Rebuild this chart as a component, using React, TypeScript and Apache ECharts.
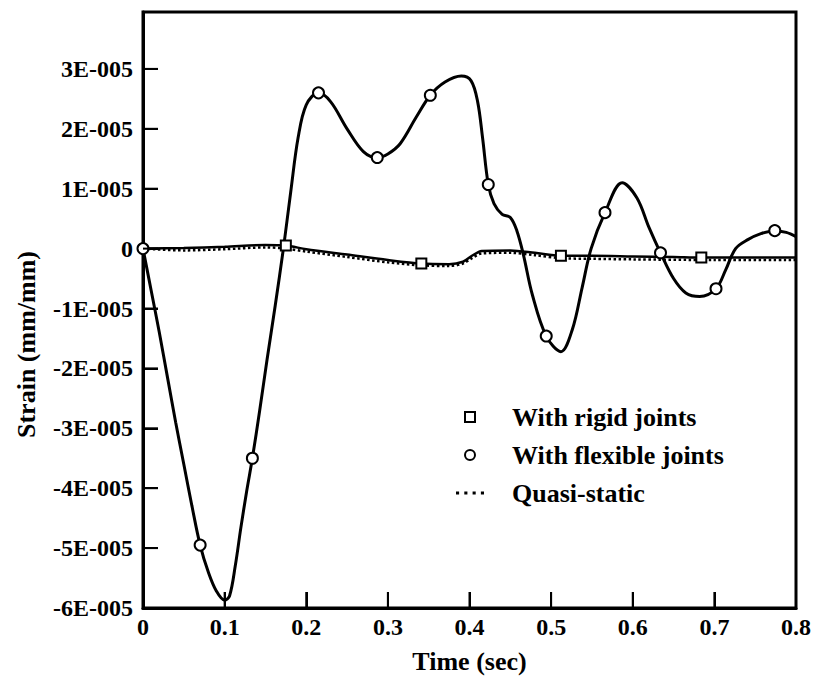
import React, { useEffect, useRef } from "react";
import * as echarts from "echarts";

// ---- Data (strain in mm/mm, time in sec) ----
const flexTime = [
  0.0, 0.01, 0.02, 0.03, 0.04, 0.05, 0.06, 0.07, 0.08, 0.09, 0.1, 0.106, 0.113, 0.12, 0.127,
  0.134, 0.143, 0.152, 0.162, 0.172, 0.181, 0.19, 0.2, 0.215, 0.23, 0.25, 0.27, 0.287, 0.3,
  0.315, 0.335, 0.352, 0.37, 0.39, 0.402, 0.41, 0.416, 0.423, 0.43, 0.44, 0.45, 0.458, 0.466,
  0.477, 0.494, 0.512, 0.526, 0.538, 0.549, 0.566, 0.587, 0.605, 0.62, 0.634, 0.65, 0.665,
  0.682, 0.702, 0.714, 0.726, 0.741, 0.757, 0.774, 0.788, 0.8,
];
const flexStrain = [
  0, -0.7e-5, -1.4e-5, -2.15e-5, -2.9e-5, -3.6e-5, -4.3e-5, -4.95e-5, -5.4e-5, -5.72e-5,
  -5.87e-5, -5.8e-5, -5.3e-5, -4.65e-5, -4.05e-5, -3.5e-5, -2.7e-5, -1.85e-5, -0.95e-5, 0.0,
  0.95e-5, 1.85e-5, 2.4e-5, 2.6e-5, 2.45e-5, 2.0e-5, 1.62e-5, 1.52e-5, 1.58e-5, 1.75e-5,
  2.2e-5, 2.56e-5, 2.78e-5, 2.88e-5, 2.8e-5, 2.45e-5, 1.85e-5, 1.07e-5, 0.75e-5, 0.57e-5,
  0.52e-5, 0.3e-5, -0.1e-5, -0.77e-5, -1.46e-5, -1.72e-5, -1.35e-5, -0.65e-5, 0.0, 0.6e-5,
  1.1e-5, 0.85e-5, 0.35e-5, -0.07e-5, -0.5e-5, -0.74e-5, -0.8e-5, -0.67e-5, -0.35e-5, 0.0,
  0.15e-5, 0.25e-5, 0.3e-5, 0.27e-5, 0.2e-5,
];
const flexMarkerTimes = [0.0, 0.07, 0.134, 0.215, 0.287, 0.352, 0.423, 0.494, 0.566, 0.634, 0.702, 0.774];

const rigidTime = [
  0.0, 0.05, 0.1, 0.15, 0.175, 0.2, 0.25, 0.3, 0.341, 0.375, 0.392, 0.403, 0.415, 0.45, 0.48,
  0.512, 0.55, 0.6, 0.65, 0.684, 0.74, 0.8,
];
const rigidStrain = [
  0, 0.01e-5, 0.03e-5, 0.06e-5, 0.05e-5, -0.01e-5, -0.1e-5, -0.19e-5, -0.25e-5, -0.26e-5,
  -0.22e-5, -0.12e-5, -0.04e-5, -0.03e-5, -0.07e-5, -0.12e-5, -0.12e-5, -0.13e-5, -0.14e-5,
  -0.15e-5, -0.15e-5, -0.15e-5,
];
const rigidMarkerTimes = [0.175, 0.341, 0.512, 0.684];

const quasiTime = [
  0.0, 0.05, 0.1, 0.15, 0.175, 0.2, 0.25, 0.3, 0.341, 0.375, 0.392, 0.403, 0.415, 0.45, 0.48,
  0.512, 0.55, 0.6, 0.7, 0.8,
];
const quasiStrain = [
  0, -0.03e-5, -0.01e-5, 0.02e-5, 0.0, -0.05e-5, -0.14e-5, -0.23e-5, -0.28e-5, -0.29e-5,
  -0.25e-5, -0.16e-5, -0.08e-5, -0.07e-5, -0.11e-5, -0.16e-5, -0.17e-5, -0.18e-5, -0.19e-5,
  -0.19e-5,
];

// tick positions (inner ticks of the frame)
const xTickValues = [0.1, 0.2, 0.3, 0.4, 0.5, 0.6, 0.7];
const yTickValues = [-5e-5, -4e-5, -3e-5, -2e-5, -1e-5, 0, 1e-5, 2e-5, 3e-5];

const legendNames = ["With rigid joints", "With flexible joints", "Quasi-static"];

const X_MIN = 0;
const X_MAX = 0.8;
const X_STEP = 0.1;
const Y_MIN = -6e-5;
const Y_MAX = 3.95e-5;
const Y_STEP = 1e-5;

const FONT = "'Liberation Serif', 'Times New Roman', serif";

function buildData(times: number[], values: number[], markers: number[], marker: string) {
  return times.map((t, i) => ({
    value: [t, values[i]],
    symbol: markers.some((m) => Math.abs(m - t) < 1e-9) ? marker : "none",
  }));
}

export default function App() {
  const ref = useRef<HTMLDivElement>(null);

  useEffect(() => {
    if (!ref.current) return;
    const chart = echarts.init(ref.current, undefined, { renderer: "svg" });
    const markerStyle = { color: "#fff", borderColor: "#000", borderWidth: 2 };
    const axisLine = { show: true, onZero: false, lineStyle: { color: "#000", width: 3 } };
    const tickX = { show: true, inside: true, length: 16, lineStyle: { color: "#000", width: 2 } };
    const tickY = { show: true, inside: true, length: 15, lineStyle: { color: "#000", width: 2 } };
    chart.setOption({
      animation: false,
      backgroundColor: "#fff",
      grid: {
        left: 143,
        right: 17,
        top: 12,
        bottom: 68,
        show: true,
        borderColor: "#000",
        borderWidth: 3,
      },
      xAxis: {
        type: "value",
        min: X_MIN,
        max: X_MAX,
        interval: X_STEP,
        name: "Time (sec)",
        nameLocation: "middle",
        nameGap: 40,
        nameTextStyle: { fontFamily: FONT, fontWeight: "bold", fontSize: 26, color: "#000" },
        axisLine,
        axisTick: tickX,
        splitLine: { show: false },
        axisLabel: {
          margin: 7,
          fontFamily: FONT,
          fontWeight: "bold",
          fontSize: 24,
          color: "#000",
          formatter: (v: number) => (Math.abs(v) < 1e-9 ? "0" : v.toFixed(1)),
        },
      },
      yAxis: {
        type: "value",
        min: Y_MIN,
        max: Y_MAX,
        interval: Y_STEP,
        name: "Strain (mm/mm)",
        nameLocation: "middle",
        nameGap: 104,
        nameTextStyle: {
          fontFamily: FONT,
          fontWeight: "bold",
          fontSize: 26,
          color: "#000",
          padding: [0, 69, 0, 0],
        },
        axisLine,
        axisTick: tickY,
        splitLine: { show: false },
        axisLabel: {
          margin: 10,
          fontFamily: FONT,
          fontWeight: "bold",
          fontSize: 24,
          color: "#000",
          formatter: (v: number) => {
            if (Math.abs(v) < 1e-12) return "0";
            const k = Math.round(v / 1e-5);
            if (Math.abs(v - k * 1e-5) > 1e-9) return "";
            return `${k}E-005`;
          },
        },
      },
      legend: {
        orient: "vertical",
        left: 451,
        top: 399,
        itemWidth: 28,
        itemHeight: 10,
        itemGap: 12,
        selectedMode: false,
        textStyle: {
          fontFamily: FONT,
          fontWeight: "bold",
          fontSize: 26,
          lineHeight: 24,
          color: "#000",
          padding: [0, 0, 0, 23],
        },
        data: [
          {
            name: legendNames[0],
            icon: "path://M0,0H10V10H0Z",
            itemStyle: { color: "#fff", borderColor: "#000", borderWidth: 2 },
          },
          {
            name: legendNames[1],
            icon: "path://M5,0A5,5,0,1,1,5,10A5,5,0,1,1,5,0Z",
            itemStyle: { color: "#fff", borderColor: "#000", borderWidth: 2 },
          },
          {
            name: legendNames[2],
            icon: "path://M0,0H3V3H0ZM8,0H11V3H8ZM16,0H19V3H16ZM24,0H27V3H24Z",
            itemStyle: { color: "#000", borderWidth: 0 },
          },
        ],
      },
      series: [
        {
          name: legendNames[2],
          type: "line",
          data: quasiTime.map((t, i) => [t, quasiStrain[i]]),
          symbol: "none",
          smooth: 0.3,
          lineStyle: { color: "#000", width: 2.5, type: "dotted" },
          itemStyle: { color: "#000" },
        },
        {
          name: legendNames[0],
          type: "line",
          data: buildData(rigidTime, rigidStrain, rigidMarkerTimes, "rect"),
          symbolSize: 10,
          smooth: 0.3,
          lineStyle: { color: "#000", width: 2.5 },
          itemStyle: markerStyle,
        },
        {
          name: legendNames[1],
          type: "line",
          data: buildData(flexTime, flexStrain, flexMarkerTimes, "circle"),
          symbolSize: 11,
          smooth: 0.35,
          lineStyle: { color: "#000", width: 3 },
          itemStyle: markerStyle,
        },
        {
          name: "x-ticks",
          type: "custom",
          silent: true,
          z: 5,
          data: xTickValues.map((v) => [v, Y_MIN]),
          renderItem: (_params: any, api: any) => {
            const p = api.coord([api.value(0), Y_MIN]);
            return {
              type: "line",
              shape: { x1: p[0], y1: p[1], x2: p[0], y2: p[1] - 16 },
              style: { stroke: "#000", lineWidth: 2 },
            };
          },
        },
        {
          name: "y-ticks",
          type: "custom",
          silent: true,
          z: 5,
          data: yTickValues.map((v) => [X_MIN, v]),
          renderItem: (_params: any, api: any) => {
            const p = api.coord([X_MIN, api.value(1)]);
            return {
              type: "line",
              shape: { x1: p[0], y1: p[1], x2: p[0] + 15, y2: p[1] },
              style: { stroke: "#000", lineWidth: 2 },
            };
          },
        },
      ],
    });
    return () => chart.dispose();
  }, []);

  return (
    <div
      ref={ref}
      style={{ position: "absolute", left: 0, top: 0, width: 814, height: 679, background: "#fff" }}
    />
  );
}
